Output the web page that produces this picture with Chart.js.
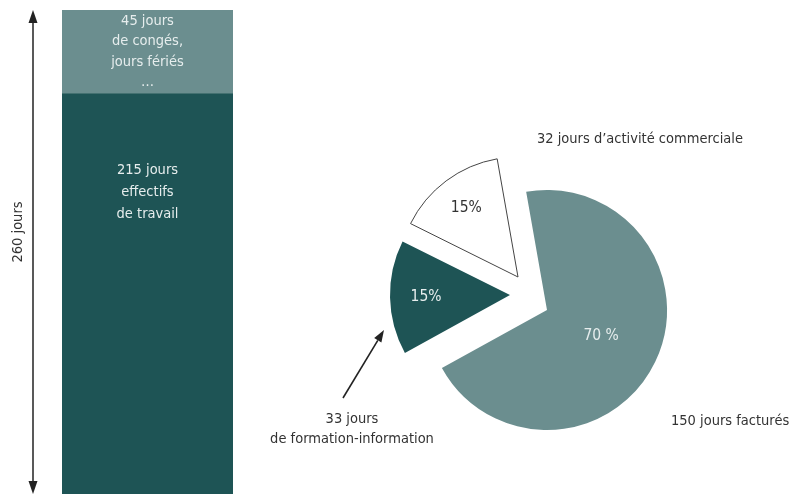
<!DOCTYPE html>
<html lang="fr">
<head>
<meta charset="utf-8">
<script src="https://cdn.jsdelivr.net/npm/chart.js@4/dist/chart.umd.min.js"></script>
<style>
  body { margin: 0; background: #fff; }
  #wrap { position: relative; width: 790px; height: 496px; overflow: hidden;
          font-family: "Liberation Sans Narrow", "DejaVu Sans Condensed", sans-serif;
          font-size: 14.5px; color: #333; }
  #bar { position: absolute; left: 0; top: 0; }
  #pie { position: absolute; left: 380px; top: 120px; }
  .lbl { position: absolute; white-space: nowrap; line-height: 20px; }
  svg { position: absolute; left: 0; top: 0; }
</style>
</head>
<body>
<div id="wrap">
  <canvas id="bar" width="260" height="496"></canvas>
  <canvas id="pie" width="410" height="376"></canvas>
  <div class="lbl" style="left:537px; top:128px;">32 jours d’activité commerciale</div>
  <div class="lbl" style="left:352px; top:408px; transform:translateX(-50%); text-align:center;">33 jours<br>de formation-information</div>
  <div class="lbl" style="left:671px; top:410px;">150 jours facturés</div>
  <svg width="790" height="496">
    <line x1="343" y1="398" x2="377.8" y2="340.3" stroke="#222" stroke-width="1.6"/>
    <polygon points="384,330 381.4,342.6 374.2,338.1" fill="#222"/>
  </svg>
</div>
<script>
// année de travail : barre empilée + camembert éclaté

const barCategory = ["année"];
const workDays = [215];
const offDays = [45];
const yearDays = 260;
const workText = ["215 jours", "effectifs", "de travail"];
const offText = ["45 jours", "de congés,", "jours fériés", "…"];

const pieCategories = ["jours facturés", "jours de formation-information", "jours d’activité commerciale"];
const pieDays = [150, 33, 32];
const pieText = ["70 %", "15%", "15%"];

const DARK = "#1e5455";
const LIGHT = "#6b8e8f";
const FONT = '"Liberation Sans Narrow", "DejaVu Sans Condensed", sans-serif';

// flèche double + textes dans la barre
const barDecor = {
  id: "barDecor",
  afterDraw(chart) {
    const ctx = chart.ctx;
    const y = chart.scales.y;
    const top = y.getPixelForValue(yearDays);
    const bot = y.getPixelForValue(0);
    const ax = 33;
    ctx.save();
    ctx.strokeStyle = ctx.fillStyle = "#222";
    ctx.lineWidth = 1.5;
    ctx.beginPath();
    ctx.moveTo(ax, top + 10);
    ctx.lineTo(ax, bot - 10);
    ctx.stroke();
    ctx.beginPath();
    ctx.moveTo(ax, top); ctx.lineTo(ax - 4.5, top + 13); ctx.lineTo(ax + 4.5, top + 13);
    ctx.closePath(); ctx.fill();
    ctx.beginPath();
    ctx.moveTo(ax, bot); ctx.lineTo(ax - 4.5, bot - 13); ctx.lineTo(ax + 4.5, bot - 13);
    ctx.closePath(); ctx.fill();

    ctx.font = "14.5px " + FONT;
    ctx.textAlign = "center";
    ctx.save();
    ctx.translate(22, 232);
    ctx.rotate(-Math.PI / 2);
    ctx.fillStyle = "#333";
    ctx.fillText(yearDays + " jours", 0, 0);
    ctx.restore();

    ctx.textBaseline = "middle";
    ctx.fillStyle = "#e6eded";
    const work = chart.getDatasetMeta(0).data[0];
    workText.forEach((t, i) => ctx.fillText(t, work.x, work.y + 76 + i * 22));
    const off = chart.getDatasetMeta(1).data[0];
    const mid = (off.y + off.base) / 2;
    offText.forEach((t, i) => ctx.fillText(t, off.x, mid - 31 + i * 20.5));
    ctx.restore();
  }
};

new Chart(document.getElementById("bar"), {
  type: "bar",
  data: {
    labels: barCategory,
    datasets: [
      { data: workDays, backgroundColor: DARK },
      { data: offDays, backgroundColor: LIGHT }
    ]
  },
  options: {
    responsive: false,
    animation: false,
    events: [],
    layout: { padding: { left: 62, right: 27, top: 10, bottom: 2 } },
    datasets: { bar: { barPercentage: 1, categoryPercentage: 1, borderWidth: 0 } },
    scales: {
      x: { display: false, stacked: true },
      y: { display: false, stacked: true, min: 0, max: yearDays }
    },
    plugins: { legend: { display: false }, tooltip: { enabled: false } }
  },
  plugins: [barDecor]
});

// parts éclatées du camembert (décalage en px, x puis y)
const pieShift = [[0, 0], [-37, -15], [-29, -33]];
const pieLabelAt = [0.5, 0.7, 0.72];

const pieDecor = {
  id: "pieDecor",
  beforeDatasetDraw(chart, args) {
    const ctx = chart.ctx;
    const arcs = args.meta.data;
    arcs.forEach((arc, i) => {
      ctx.save();
      ctx.translate(pieShift[i][0], pieShift[i][1]);
      arc.draw(ctx);
      ctx.restore();
    });
    ctx.save();
    ctx.font = "15.5px " + FONT;
    ctx.textAlign = "center";
    ctx.textBaseline = "middle";
    arcs.forEach((arc, i) => {
      const mid = (arc.startAngle + arc.endAngle) / 2;
      const r = arc.outerRadius * pieLabelAt[i];
      ctx.fillStyle = i === 2 ? "#333" : "#e6eded";
      ctx.fillText(pieText[i],
        arc.x + pieShift[i][0] + Math.cos(mid) * r,
        arc.y + pieShift[i][1] + Math.sin(mid) * r);
    });
    ctx.restore();
    return false;
  }
};

new Chart(document.getElementById("pie"), {
  type: "pie",
  data: {
    labels: pieCategories,
    datasets: [{
      data: pieDays,
      backgroundColor: [LIGHT, DARK, "#ffffff"],
      borderColor: ["#ffffff", "#ffffff", "#444444"],
      borderWidth: [0, 0, 1],
      borderJoinStyle: "miter",
      hoverOffset: 0
    }]
  },
  options: {
    responsive: false,
    animation: false,
    events: [],
    rotation: -10,
    radius: 120,
    layout: { padding: { left: 27, right: 103, top: 50, bottom: 46 } },
    plugins: { legend: { display: false }, tooltip: { enabled: false } }
  },
  plugins: [pieDecor]
});
</script>
</body>
</html>
